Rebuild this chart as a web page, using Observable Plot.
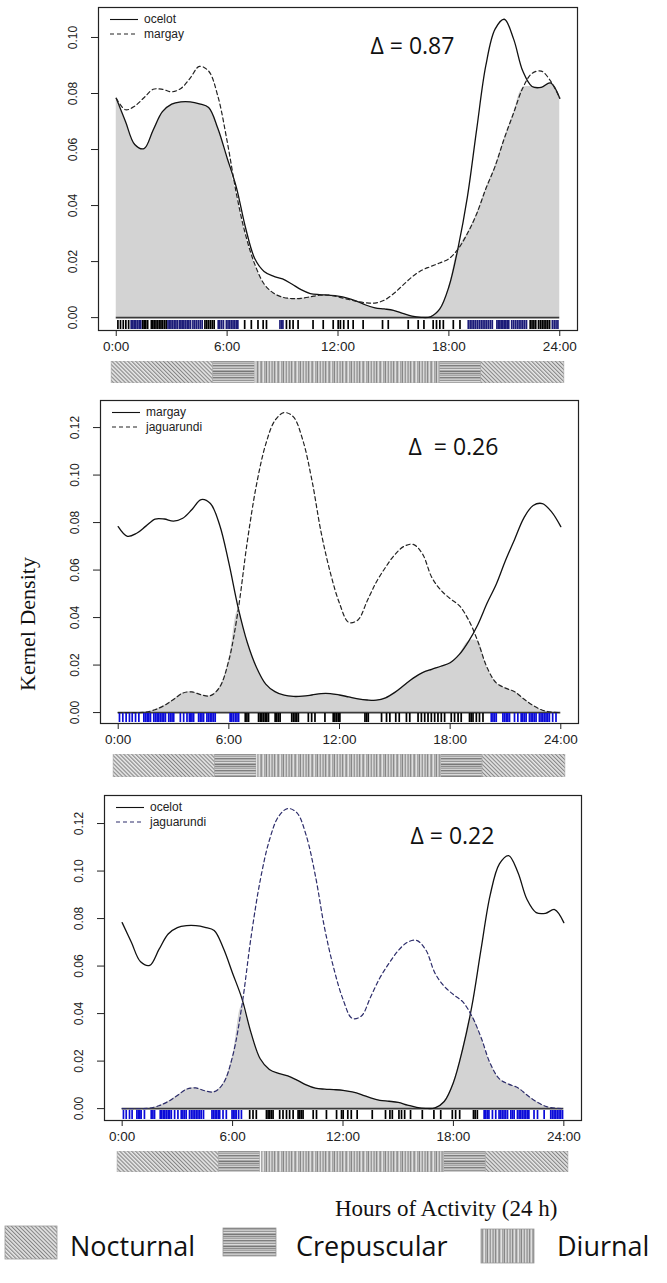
<!DOCTYPE html>
<html><head><meta charset="utf-8">
<script src="https://cdn.jsdelivr.net/npm/d3@7"></script>
<script src="https://cdn.jsdelivr.net/npm/@observablehq/plot@0.6"></script>
<style>
body{margin:0;background:#fff;}
#root{position:relative;width:667px;height:1283px;overflow:hidden;background:#fff;}
#root svg{position:absolute;left:0;max-width:none;}
</style></head><body><div id="root"></div>
<script>
// ---------- data ----------
const hours = [0,0.5,1,1.5,2,2.5,3,3.5,4,4.5,5,5.5,6,6.5,7,7.5,8,8.5,9,9.5,10,10.5,11,11.5,12,12.5,13,13.5,14,14.5,15,15.5,16,16.5,17,17.5,18,18.5,19,19.5,20,20.5,21,21.5,22,22.5,23,23.5,24];
const ocelot = [0.0783,0.0700,0.0618,0.0603,0.0670,0.0735,0.0762,0.0770,0.0770,0.0763,0.0750,0.0675,0.0570,0.0465,0.0320,0.0210,0.0165,0.0148,0.0138,0.0120,0.0100,0.0086,0.0082,0.0080,0.0077,0.0070,0.0059,0.0045,0.0035,0.0031,0.0026,0.0015,0.0005,0.0001,0.0003,0.0030,0.0110,0.0250,0.0430,0.0670,0.0900,0.1030,0.1065,0.0995,0.0880,0.0825,0.0822,0.0838,0.0783];
const margay = [0.0783,0.0742,0.0755,0.0785,0.0815,0.0815,0.0806,0.0818,0.0855,0.0897,0.0880,0.0790,0.0630,0.0443,0.0295,0.0190,0.0120,0.0088,0.0073,0.0068,0.0069,0.0074,0.0080,0.0080,0.0074,0.0066,0.0058,0.0053,0.0052,0.0062,0.0085,0.0115,0.0145,0.0168,0.0182,0.0195,0.0210,0.0245,0.0300,0.0370,0.0460,0.0540,0.0640,0.0730,0.0820,0.0872,0.0880,0.0845,0.0783];
const jaguarundi = [0,0,0,0.0002,0.0012,0.0030,0.0055,0.0082,0.0087,0.0075,0.0071,0.0107,0.0220,0.0430,0.0720,0.0960,0.1130,0.1230,0.1263,0.1245,0.1150,0.0980,0.0760,0.0590,0.0460,0.0380,0.0390,0.0470,0.0550,0.0612,0.0665,0.0700,0.0708,0.0668,0.0570,0.0515,0.0480,0.0450,0.0390,0.0300,0.0190,0.0125,0.0103,0.0088,0.0057,0.0030,0.0010,0.0002,0];

const xTicks = [0,6,12,18,24];
const xTickLabels = ["0:00","6:00","12:00","18:00","24:00"];
const yTicksTop = [0,0.02,0.04,0.06,0.08,0.10];
const yTicksLower = [0,0.02,0.04,0.06,0.08,0.10,0.12];
const deltaLabels = ["\u0394 = 0.87","\u0394\u00a0 = 0.26","\u0394 = 0.22"];

const phaseNames = ["Nocturnal","Crepuscular","Diurnal"];
const phaseStart = [-0.25,5.25,7.5,17.5,19.75];
const phaseEnd = [5.25,7.5,17.5,19.75,24.25];
const phaseType = ["Nocturnal","Crepuscular","Diurnal","Crepuscular","Nocturnal"];

// rug (observation times, hours)
const rug1Ocelot = [0.81,0.9,0.98,1.06,1.15,1.24,1.33,2.8,2.88,2.96,3.05,3.14,3.23,3.32,3.43,3.5,3.58,3.66,3.75,3.84,3.93,4.02,4.15,4.25,4.35,4.45,4.55,4.65,5.52,5.6,5.7,5.8,5.96,6.05,6.14,6.23,6.32,6.41,6.5,6.58,8.86,8.95,9.02,19.05,19.15,19.25,19.35,19.45,19.55,19.65,19.75,19.85,19.95,20.05,20.15,20.25,20.35,20.6,20.68,20.76,20.84,20.92,21.0,21.08,21.16,21.24,21.4,21.5,21.6,21.7,21.8,21.9,22.0,22.1,22.2,23.6,23.7,23.8,23.9];
const rug1Margay = [0.09,0.23,0.38,0.52,0.67,1.44,1.52,1.6,1.7,1.9,1.98,2.06,2.15,2.24,2.33,2.42,2.5,2.6,2.7,4.8,4.9,5.0,5.1,5.2,5.3,6.95,7.31,7.67,7.95,8.13,9.21,9.39,9.57,9.84,10.65,11.2,11.74,12.01,12.13,12.31,12.55,12.82,13.36,14.41,14.72,15.8,16.34,16.65,17.15,17.33,17.51,17.7,18.24,18.6,22.4,22.5,22.6,22.7,22.85,22.95,23.05,23.15,23.25,23.35,23.45];
const rug2Margay = [0.07,0.25,0.43,0.61,0.76,0.94,1.12,1.39,1.48,1.57,1.66,1.75,1.93,2.02,2.11,2.2,2.29,2.38,2.47,2.56,2.74,2.83,2.92,3.01,3.37,3.55,3.73,3.86,3.93,4.0,4.09,4.36,4.45,4.54,4.63,4.81,4.9,4.99,5.08,5.17,5.26,6.07,6.16,6.25,6.35,6.44,6.53,20.23,20.32,20.41,20.5,20.86,20.95,21.04,21.13,21.22,21.49,21.67,21.85,21.94,22.03,22.12,22.3,22.39,22.48,22.57,22.66,22.84,22.93,23.02,23.11,23.2,23.29,23.38,23.56,23.74];
const rug2Jaguarundi = [6.89,6.98,7.07,7.61,7.7,7.79,7.88,7.97,8.06,8.15,8.51,8.6,8.69,8.78,9.41,9.5,9.59,9.68,9.77,10.31,10.49,10.67,11.21,11.66,11.75,11.84,11.93,12.02,13.38,13.47,13.56,14.28,14.55,14.73,15.05,15.24,15.63,15.81,16.26,16.44,16.62,16.8,16.98,17.16,17.34,17.52,17.7,18.06,18.24,18.43,18.6,19.05,19.14,19.24,19.42,19.59,19.78];
const rug3Ocelot = [0.07,0.22,0.4,0.54,0.8,0.88,0.96,1.03,1.21,1.58,1.67,1.76,2.07,2.15,2.24,2.32,2.41,2.5,2.58,2.67,2.85,3.03,3.21,3.3,3.39,3.48,3.66,3.76,3.85,3.94,4.03,4.12,4.21,4.3,4.42,4.88,4.96,5.05,5.13,5.22,5.3,5.48,5.66,5.97,6.05,6.13,6.2,6.33,6.48,19.67,19.76,19.85,19.93,20.12,20.3,20.48,20.57,20.66,20.75,20.84,20.94,21.12,21.21,21.3,21.48,21.57,21.66,21.75,21.84,21.93,22.02,22.1,22.38,22.57,22.93,23.29,23.38,23.47,23.56,23.65,23.74,23.83,23.93];
const rug3Jaguarundi = [6.93,7.11,7.29,7.84,7.93,8.02,8.11,8.2,8.56,8.74,8.93,9.1,9.29,9.56,9.65,9.74,9.83,10.38,10.56,11.1,11.65,11.92,12.01,12.26,12.45,12.77,13.59,14.31,14.55,14.68,15.04,15.18,15.35,15.67,16.31,16.94,17.31,17.94,18.12,18.34,19.09,19.18,19.3];

// ---------- layout / style ----------
const species = {ocelot, margay, jaguarundi};
const panels = [
  {top:0, ml:98, mr:23, mt:7, ph:323, mb:30, yDomain:[-0.0046,0.1107], yTicks:yTicksTop,
   a:"ocelot", b:"margay", bColor:"#222", rugA:rug1Ocelot, rugAColor:"#1c1c78", rugB:rug1Margay, rugBColor:"#000",
   delta:deltaLabels[0], ddx:272, ddy:30, barTop:361, barH:22},
  {top:393, ml:100, mr:22, mt:7, ph:323, mb:30, yDomain:[-0.0046,0.1314], yTicks:yTicksLower,
   a:"margay", b:"jaguarundi", bColor:"#222", rugA:rug2Margay, rugAColor:"#0b0bd8", rugB:rug2Jaguarundi, rugBColor:"#000",
   delta:deltaLabels[1], ddx:308, ddy:38, barTop:754, barH:23},
  {top:788, ml:104, mr:19, mt:7, ph:325, mb:30, yDomain:[-0.005,0.1318], yTicks:yTicksLower,
   a:"ocelot", b:"jaguarundi", bColor:"#2c2c6a", rugA:rug3Ocelot, rugAColor:"#0b0bd8", rugB:rug3Jaguarundi, rugBColor:"#000",
   delta:deltaLabels[2], ddx:306, ddy:32, barTop:1151, barH:21}
];
const W = 600;
const root = document.getElementById("root");
const markerFill = {Nocturnal:"#010101", Crepuscular:"#020202", Diurnal:"#030303"};
const patKey = {Nocturnal:"noct", Crepuscular:"crep", Diurnal:"diur"};

function addPatterns(svgSel, id) {
  const defs = svgSel.insert("defs", ":first-child");
  const n = defs.append("pattern").attr("id","noct"+id).attr("patternUnits","userSpaceOnUse")
    .attr("width",2.8).attr("height",2.8).attr("patternTransform","rotate(-45)");
  n.append("rect").attr("width",2.8).attr("height",2.8).attr("fill","#e6e6e6");
  n.append("rect").attr("width",1.1).attr("height",2.8).attr("fill","#858585");
  const crep = ["#8c8c8c","#bdbdbd","#a5a5a5","#d2d2d2","#7e7e7e","#b0b0b0","#c8c8c8","#969696","#dadada","#a8a8a8","#777777","#c0c0c0"];
  const c = defs.append("pattern").attr("id","crep"+id).attr("patternUnits","userSpaceOnUse")
    .attr("width",10).attr("height",crep.length);
  crep.forEach((col,i)=>c.append("rect").attr("y",i).attr("width",10).attr("height",1).attr("fill",col));
  const diur = ["#a4a4a4","#cdcdcd","#8a8a8a","#bcbcbc","#dedede","#a8a8a8","#949494","#c6c6c6","#e2e2e2","#a6a6a6","#b6b6b6","#868686","#d2d2d2","#bebebe","#9a9a9a","#d8d8d8","#b0b0b0"];
  const d = defs.append("pattern").attr("id","diur"+id).attr("patternUnits","userSpaceOnUse")
    .attr("width",diur.length).attr("height",10);
  diur.forEach((col,i)=>d.append("rect").attr("x",i).attr("width",1).attr("height",10).attr("fill",col));
}

panels.forEach((p, k) => {
  const A = species[p.a], B = species[p.b];
  const rows = hours.map((h,i)=>({hour:h, a:A[i], b:B[i], lo:Math.min(A[i],B[i])}));
  const chart = Plot.plot({
    width: W, height: p.mt + p.ph + p.mb,
    marginLeft: p.ml, marginRight: p.mr, marginTop: p.mt, marginBottom: p.mb,
    x: {domain: [-0.96, 24.96]},
    y: {domain: p.yDomain},
    style: {fontFamily: "'Liberation Sans', Arial, sans-serif", color: "#222", background: "transparent"},
    marks: [
      Plot.areaY(rows, {x:"hour", y:"lo", fill:"#d3d3d3", curve:"catmull-rom"}),
      Plot.ruleY([0], {x1: hours[0], x2: hours[hours.length-1], stroke:"#3a3a3a", strokeWidth:1.8}),
      Plot.line(rows, {x:"hour", y:"a", stroke:"#111", strokeWidth:1.3, curve:"catmull-rom"}),
      Plot.line(rows, {x:"hour", y:"b", stroke:p.bColor, strokeWidth:1.2, strokeDasharray:"4,3", curve:"catmull-rom"}),
      Plot.ruleX(p.rugB, {x: d=>d, stroke:p.rugBColor, strokeWidth:1.7, insetTop:p.ph-10, insetBottom:1}),
      Plot.ruleX(p.rugA, {x: d=>d, stroke:p.rugAColor, strokeWidth:1.7, insetTop:p.ph-10, insetBottom:1}),
      Plot.frame({stroke:"#222", strokeWidth:1.2}),
      Plot.axisX({ticks: xTicks, tickFormat: d => xTickLabels[xTicks.indexOf(d)], label: null, tickSize:6, tickPadding:5, fontSize:13.5, stroke:"#222"}),
      Plot.axisY({ticks: p.yTicks, tickFormat: d3.format(".2f"), label: null, tickSize:7, tickPadding:15, tickRotate:-90, fontSize:12, stroke:"#222"}),
      Plot.text([p.delta], {frameAnchor:"top-left", dx:p.ddx, dy:p.ddy, textAnchor:"start", fontSize:23, fontFamily:"'Open Sans', sans-serif", fill:"#111"})
    ]
  });
  chart.style.top = p.top + "px";
  root.appendChild(chart);
  // in-plot legend
  const g = d3.select(chart).append("g").attr("transform", `translate(${p.ml},${p.mt})`)
    .attr("font-family","'Liberation Sans', Arial, sans-serif").attr("font-size",12).attr("fill","#222")
    .attr("text-anchor","start");
  [[p.a, null, 12.5, "#111"], [p.b, "4,3", 27, p.bColor]].forEach(([name, dash, yy, col]) => {
    g.append("line").attr("x1",12).attr("x2",40).attr("y1",yy).attr("y2",yy)
      .attr("stroke",col).attr("stroke-width",1.1).attr("stroke-dasharray",dash);
    g.append("text").attr("x",46).attr("y",yy).attr("dy","0.32em").attr("text-anchor","start").text(name);
  });

  // phase bar
  const phases = phaseStart.map((s,i)=>({start:s, end:phaseEnd[i], type:phaseType[i]}));
  const bar = Plot.plot({
    width: W, height: p.barH,
    marginLeft: p.ml, marginRight: p.mr, marginTop: 0, marginBottom: 0,
    x: {domain: [-0.96, 24.96], axis: null},
    style: {background: "transparent"},
    marks: phaseNames.map(n => Plot.rect(phases.filter(d => d.type === n),
      {x1:"start", x2:"end", fill: markerFill[n], stroke:"#a8a8a8", strokeWidth:0.6,
       insetLeft: n === "Diurnal" ? 1.5 : 0}))
  });
  bar.style.top = p.barTop + "px";
  root.appendChild(bar);
  addPatterns(d3.select(bar), k);
  // attach the hatch patterns to the phase rectangles
  d3.select(bar).selectAll("*").each(function() {
    const f = (this.getAttribute("fill") || "").toLowerCase();
    const n = phaseNames.find(q => markerFill[q] === f);
    if (n) this.setAttribute("fill", `url(#${patKey[n]}${k})`);
  });
});

// ---------- overlay labels and bottom legend ----------
const ov = d3.select(root).append("svg").attr("width",667).attr("height",1283).style("top","0px").style("pointer-events","none");
addPatterns(ov, "L");
ov.append("text").attr("transform","translate(27,624) rotate(-90)").attr("text-anchor","middle").attr("dy","0.35em")
  .attr("font-family","'Liberation Serif','Times New Roman',serif").attr("font-size",22).attr("fill","#111").text("Kernel Density");
ov.append("text").attr("x",335).attr("y",1216).attr("font-family","'Liberation Serif','Times New Roman',serif")
  .attr("font-size",23).attr("fill","#111").text("Hours of Activity (24 h)");
const legendItems = [
  {name:"Nocturnal", sx:5, sy:1226, sw:52, sh:33, tx:70},
  {name:"Crepuscular", sx:223, sy:1228, sw:53, sh:28, tx:296},
  {name:"Diurnal", sx:481, sy:1229, sw:53, sh:34, tx:557}
];
legendItems.forEach(it => {
  ov.append("rect").attr("x",it.sx).attr("y",it.sy).attr("width",it.sw).attr("height",it.sh)
    .attr("fill",`url(#${patKey[it.name]}L)`).attr("stroke","#999").attr("stroke-width",0.8);
  ov.append("text").attr("x",it.tx).attr("y",1256).attr("font-family","'Open Sans',sans-serif")
    .attr("font-size",27).attr("fill","#111").text(it.name);
});
</script></body></html>
